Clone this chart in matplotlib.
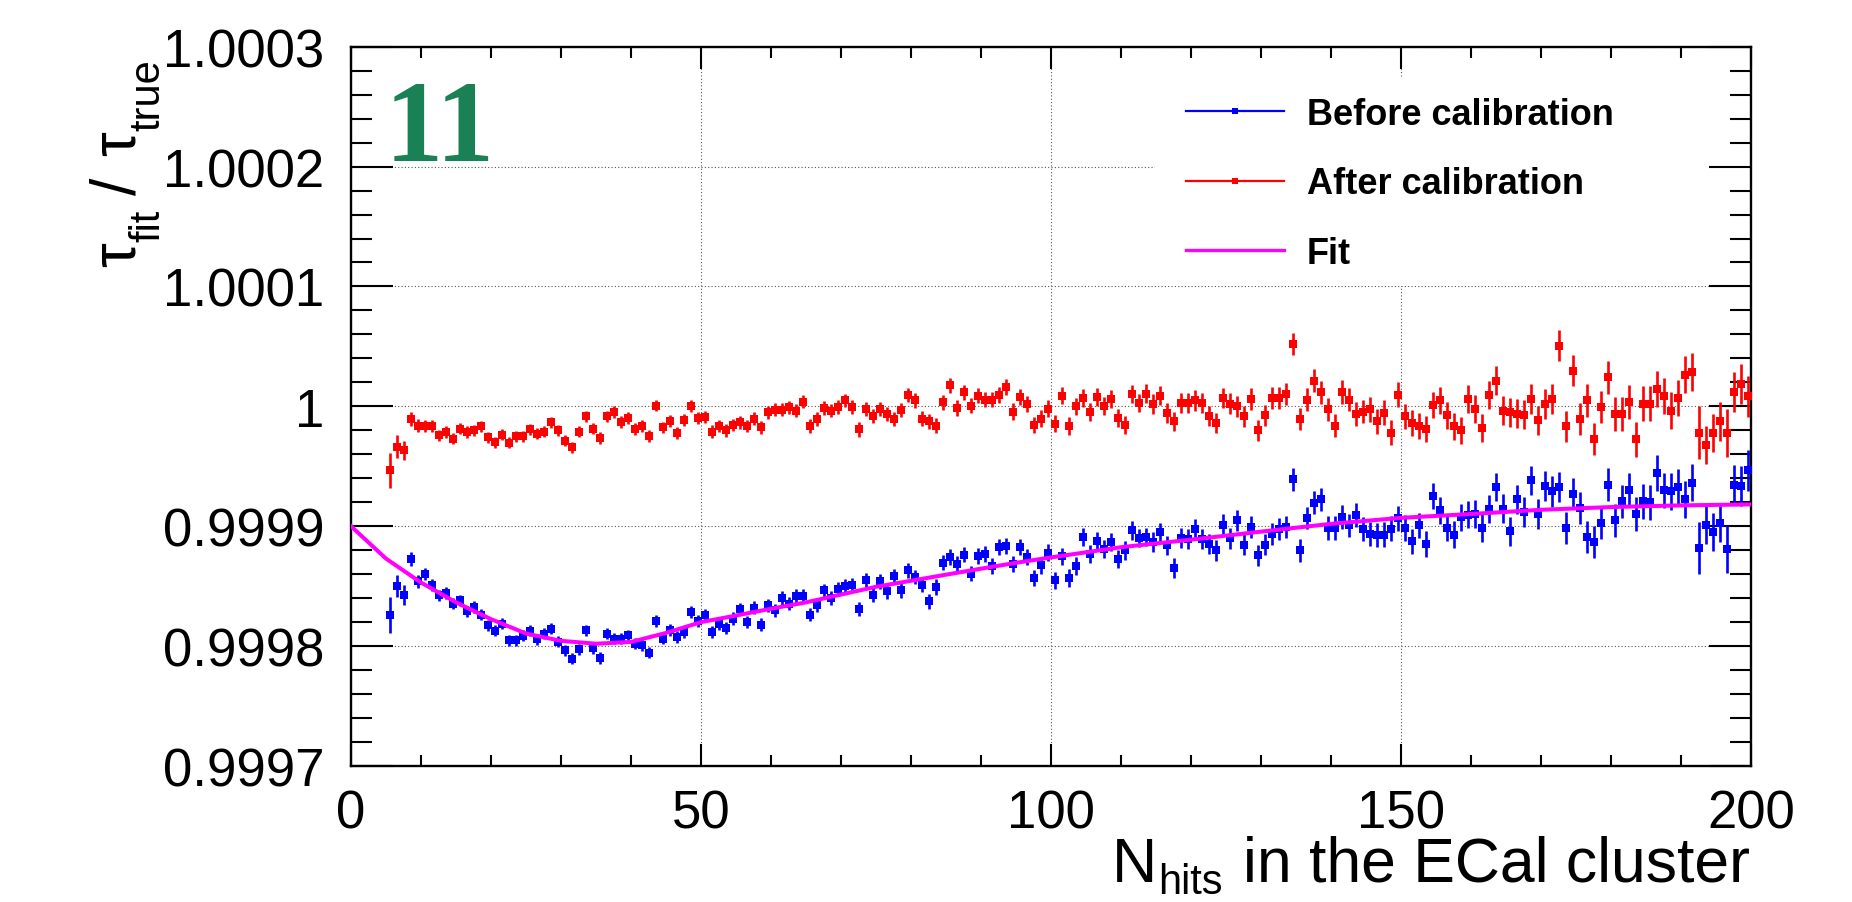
import numpy as np
import matplotlib
matplotlib.use("Agg")
import matplotlib.pyplot as plt
from matplotlib.lines import Line2D
from matplotlib.patches import Rectangle
from matplotlib.ticker import MultipleLocator
from matplotlib.font_manager import FontProperties

plt.rcParams['font.family'] = ['Liberation Sans', 'DejaVu Sans']

# ---------------------------------------------------------------- data
# bin centres: N_hits = 5.5 ... 199.5 (unit-width bins)
n_hits = np.arange(5.5, 200.0, 1.0)

# tau_fit / tau_true before calibration, deviation from 1 in units of 1e-6
before_ppm = [
    -173.75, -149.9, -157.6, -127.1, -146, -139.6, -148.75, -157.6, -155.7, -164.6,
    -161.8, -171, -167.4, -173.75, -182.6, -187.1, -181.25, -195.1, -195.1, -191.5,
    -187.1, -194.3, -189.6, -185.4, -196.5, -203.5, -210.4, -202.6, -186.8, -201.5,
    -209.9, -189.6, -193.75, -193.75, -191, -197.9, -199.3, -205.4, -179.3, -193.75,
    -186.8, -192.4, -188.2, -171.5, -179.3, -174.3, -188.2, -181.25, -184.9, -177.1,
    -169.0, -180.0, -168.0, -182,
    -166, -170, -159.9, -164.6, -158.2, -158.2, -173.75, -166, -153.5, -159.9,
    -152.6, -149.9, -148.75, -169.3, -145.1, -157.6, -146, -154.3, -141.5, -153.5,
    -136.8, -142.4, -148.75, -162.6, -150.7, -130.4, -125.7, -131.25, -123.75, -139.6,
    -124.9, -122.9, -133.2, -117.4, -116.5, -131.25, -117.4, -125.7, -143.2, -132.6,
    -122.1, -145.1, -124.9, -143.2, -133.2, -109, -122.9, -112.6, -118.75, -113.2,
    -127.1, -120.1, -103.5, -109.9, -109, -113.2, -105.0,
    -116, -134.9, -109.9, -111, -102.6, -111, -114.6, -120.1, -98.75, -109.9,
    -95.1, -115.4, -100.7, -124.3, -115.4, -106.25, -102.1, -100.7, -61, -120.1,
    -93.2, -80.4, -77.6, -101.5, -101.5, -92.4, -99.3, -91, -102.1, -106.25,
    -107.1, -107.1, -102.1, -93.2, -101.5, -112.6, -99.3, -114.6, -74.9, -86.8,
    -101.5, -107.1, -92.4, -90.4, -89.6, -101.5, -86, -67.4, -85.4, -104.3,
    -77.6, -88.2, -61.8, -89.6, -66.5, -71, -67.4,
    -101.5, -72.9, -84.9, -109, -113.2, -97.1, -65.4, -95.1, -79.3, -70.1,
    -89.6, -79.3, -79.9, -55.4, -70.1, -71, -67.4, -77.6, -63.75, -118.2,
    -98.75, -104.9, -97.1, -119.3, -65.4, -66.5, -53.5,
]

# tau_fit / tau_true after calibration, deviation from 1 in units of 1e-6
after_ppm = [
    -53.5, -33.5, -36.8, -10.4, -16, -16.5, -16, -24.3, -21.5, -27,
    -18.75, -21.5, -20, -16.5, -25.7, -29.9, -23.75, -30.4, -24.9, -24.9,
    -19.3, -22.9, -21, -13.2, -20, -28.5, -34, -21, -8.2, -18.75,
    -26.5, -8.2, -4.9, -13.2, -9.6, -18.75, -16.5, -24.9, 0.7, -17.6,
    -12.6, -22, -11, 0, -9.6, -9, -21, -16.5, -20, -15.4,
    -13.2, -16.4, -10.2, -17.4,
    -4.9, -2.9, -2.9, -0.7, -3.5, 4, -16.5, -10.4, -1.5, -3.5,
    -0.7, 4.9, -0.7, -19.3, -2.1, -8.2, -2.1, -6.25, -10.4, -2.9,
    9.6, 4.9, -10.4, -12.6, -16, 3.5, 17.4, -1.5, 11.8, 0.7,
    9, 5.7, 5.7, 9.6, 16, -4.3, 7.6, 2.1, -15.4, -10.4,
    -2.1, -14.6, 9, -16.5, 0, 6.8, -4.9, 7.6, 0.7, 6.25,
    -9.9, -15.4, 10.4, 2.9, 10.4, 2.0, 9,
    -5.4, -12.6, 2.9, 2.9, 4.9, 2.9, -8.2, -13.75, 7.1, 2.1,
    0, -8.2, 6.25, -20.1, -7.6, 7.1, 7.1, 10.4, 52.1, -10.4,
    5.7, 21.5, 11.8, -2.6, -16, 11.8, 5.7, -6.25, -4.3, -2.6,
    -12.6, -5.4, -22.1, 9.6, -8.2, -13.75, -16.5, -18.75, 1.25, 4.9,
    -7.6, -16.5, -20.1, 6.25, -2.1, -18.2, 9.6, 21.5, -3.5, -4.9,
    -6.25, -7.1, 6.25, -11.8, 2.1, 6.25, 50.7,
    -16.5, 29.9, -10.4, 4.9, -27.1, -0.7, 24.3, -6.25, -6.25, 3.5,
    -27.6, 2.1, 2.1, 14.6, 8.5, -3.5, 6.8, 26.25, 28.5, -22.1,
    -32.1, -22.1, -12.6, -22.1, 11.8, 18.75, 8.5,
]

# statistical uncertainty per bin (units of 1e-6)
err_ppm = [
    15.0, 9.3, 8.3, 5.8, 5.2, 5.0, 5.0, 4.8, 4.8, 4.8,
    4.7, 4.7, 4.7, 4.6, 4.6, 4.6, 4.6, 4.6, 4.6, 4.6,
    4.6, 4.6, 4.6, 4.6, 4.6, 4.6, 4.6, 4.7, 4.7, 4.7,
    4.7, 4.7, 4.8, 4.8, 4.8, 4.8, 4.9, 4.9, 4.9, 4.9,
    5.0, 5.0, 5.0, 5.0, 5.1, 5.1, 5.1, 5.2, 5.2, 5.2,
    5.3, 5.3, 5.3, 5.4, 5.4, 5.4, 5.5, 5.5, 5.5, 5.6,
    5.6, 5.6, 5.7, 5.7, 5.7, 5.8, 5.8, 5.9, 5.9, 5.9,
    6.0, 6.0, 6.0, 6.1, 6.1, 6.2, 6.2, 6.2, 6.3, 6.3,
    6.4, 6.4, 6.4, 6.5, 6.5, 6.6, 6.6, 6.7, 6.7, 6.8,
    6.8, 6.9, 6.9, 7.0, 7.0, 7.1, 7.1, 7.2, 7.2, 7.3,
    7.4, 7.4, 7.5, 7.6, 7.6, 7.7, 7.8, 7.8, 7.9, 8.0,
    8.0, 8.1, 8.2, 8.2, 8.3, 8.4, 8.4, 8.5, 8.6, 8.6,
    8.7, 8.8, 8.8, 8.9, 9.0, 9.0, 9.1, 9.2, 9.2, 9.3,
    9.4, 9.4, 9.5, 9.6, 9.7, 9.7, 9.8, 9.9, 10.0, 10.0,
    10.1, 10.2, 10.3, 10.4, 10.4, 10.5, 10.6, 10.7, 10.8, 10.9,
    11.0, 11.1, 11.2, 11.3, 11.4, 11.5, 11.6, 11.7, 11.8, 11.9,
    12.0, 12.1, 12.2, 12.4, 12.5, 12.6, 12.7, 12.8, 13.0, 13.1,
    13.2, 13.4, 13.5, 13.6, 13.8, 13.9, 14.0, 14.2, 14.3, 14.5,
    14.6, 14.8, 14.9, 15.1, 15.2, 15.4, 15.6, 22.0, 15.9, 16.1,
    16.3, 20.0, 16.6, 16.8, 17.0,
]

# calibration fit curve (deviation from 1 in units of 1e-6)
fit_n = [0, 5, 10, 15, 20, 25, 30, 35, 40, 45, 50, 55, 60, 65, 70, 75, 80,
         85, 90, 95, 100, 110, 120, 130, 140, 150, 160, 170, 180, 190, 200]
fit_ppm = [-100, -127, -147, -163.5, -177.5, -189.5, -195.6, -198, -196.5,
           -189, -180, -174.5, -168.8, -163.5, -157, -150.5, -145.5, -140.4,
           -135.4, -130.5, -126, -117.5, -111.2, -104.5, -98, -93, -89.8,
           -86.3, -84, -82.6, -81.8]

ytick_values = [0.9997, 0.9998, 0.9999, 1.0, 1.0001, 1.0002, 1.0003]
ytick_labels = ["0.9997", "0.9998", "0.9999", "1", "1.0001", "1.0002", "1.0003"]
xtick_values = [0, 50, 100, 150, 200]

labels = ["Before calibration", "After calibration", "Fit"]

# ---------------------------------------------------------------- figure
W, H, DPI = 1852, 903, 100
fig = plt.figure(figsize=(W / DPI, H / DPI), dpi=DPI)
ax = fig.add_axes([351 / W, (H - 767) / H, 1400 / W, (767 - 47.7) / H])

scale = 1e-6
before = 1 + np.asarray(before_ppm) * scale
after = 1 + np.asarray(after_ppm) * scale
err = np.asarray(err_ppm) * scale
fit = 1 + np.asarray(fit_ppm) * scale

ax.set_xlim(0, 200)
ax.set_ylim(0.9997, 1.0003)

# dotted grid at the major ticks
for yv in ytick_values:
    ax.axhline(yv, color="#555555", lw=0.8, ls=(0, (1, 2)), zorder=0.5)
for xv in xtick_values:
    ax.axvline(xv, color="#555555", lw=0.8, ls=(0, (1, 2)), zorder=0.5)

# opaque legend area
ax.add_patch(Rectangle((1155 / W, 1 - 287 / H), (1750 - 1155) / W, (287 - 78) / H,
                       transform=fig.transFigure, facecolor="white",
                       edgecolor="none", zorder=0.8))

ax.errorbar(n_hits, before, yerr=err, fmt="s", color="#0000ff", ms=5.2, mew=0,
            elinewidth=1.9, capsize=0, zorder=3)
ax.plot(fit_n, fit, color="#ff00ff", lw=2.9, zorder=4)
ax.errorbar(n_hits, after, yerr=err, fmt="s", color="#ff0000", ms=5.2, mew=0,
            elinewidth=1.9, capsize=0, zorder=3)

# axes / ticks
ax.set_xticks(xtick_values)
ax.xaxis.set_minor_locator(MultipleLocator(10))
ax.set_yticks(ytick_values, ytick_labels)
ax.yaxis.set_minor_locator(MultipleLocator(0.00002))
ax.tick_params(which="both", direction="in", top=True, right=True, width=1.5)
ax.tick_params(axis="y", which="major", length=30, pad=19, labelsize=38)
ax.tick_params(axis="y", which="minor", length=15)
ax.tick_params(axis="x", which="major", length=16, pad=16, labelsize=38)
ax.tick_params(axis="x", which="minor", length=8)
for sp in ax.spines.values():
    sp.set_linewidth(1.7)

# ---------------------------------------------------------------- axis titles
# titles with low-set subscripts, laid out piece by piece
MAIN, SUB = 45, 30
renderer = fig.canvas.get_renderer()


def text_w(s, size):
    fp = FontProperties(family="Liberation Sans", size=size)
    w, _, _ = renderer.get_text_width_height_descent(s, fp, ismath=False)
    return w


# x title, right-aligned to the end of the axis
x_pieces = [("N", MAIN, 0, 1), ("hits", SUB, 12, 20),
            ("in the ECal cluster", MAIN, 0, 0)]
total = sum(text_w(s, sz) + gap for s, sz, _, gap in x_pieces)
x = 1750 - total
base_y = H - 882
for s, sz, drop, gap in x_pieces:
    fig.text(x / W, (base_y - drop) / H, s, fontsize=sz, ha="left",
             va="baseline", rotation_mode="anchor")
    x += text_w(s, sz) + gap

# y title, rotated, running upward from the bottom end
y_pieces = [("τ", MAIN, 0, 0), ("fit", SUB, 24, 15), ("/", MAIN, 0, 22),
            ("τ", MAIN, 0, 0), ("true", SUB, 24, 0)]
y = H - 267
base_x = 135
for s, sz, drop, gap in y_pieces:
    fig.text((base_x + drop) / W, y / H, s, fontsize=sz, rotation=90,
             ha="left", va="baseline", rotation_mode="anchor")
    y += text_w(s, sz) + gap

# panel number
ax.text(0.024, 0.8425, "11", transform=ax.transAxes, family="Liberation Serif",
        weight="bold", fontsize=84, color="#1a8056", ha="left", va="baseline")

# legend
handles = [
    Line2D([], [], color="#0000ff", lw=1.6, marker="s", ms=4.5, mew=0),
    Line2D([], [], color="#ff0000", lw=1.6, marker="s", ms=4.5, mew=0),
    Line2D([], [], color="#ff00ff", lw=2.4),
]
ax.legend(handles, labels, loc="upper left", bbox_to_anchor=(1186 / W, 1 - 98 / H),
          bbox_transform=fig.transFigure, frameon=False, borderpad=0,
          borderaxespad=0, handlelength=2.7, handletextpad=0.64,
          labelspacing=0.95, prop={"family": "Liberation Sans",
                                   "weight": "bold", "size": 26})

fig.savefig("out.png", dpi=DPI)
